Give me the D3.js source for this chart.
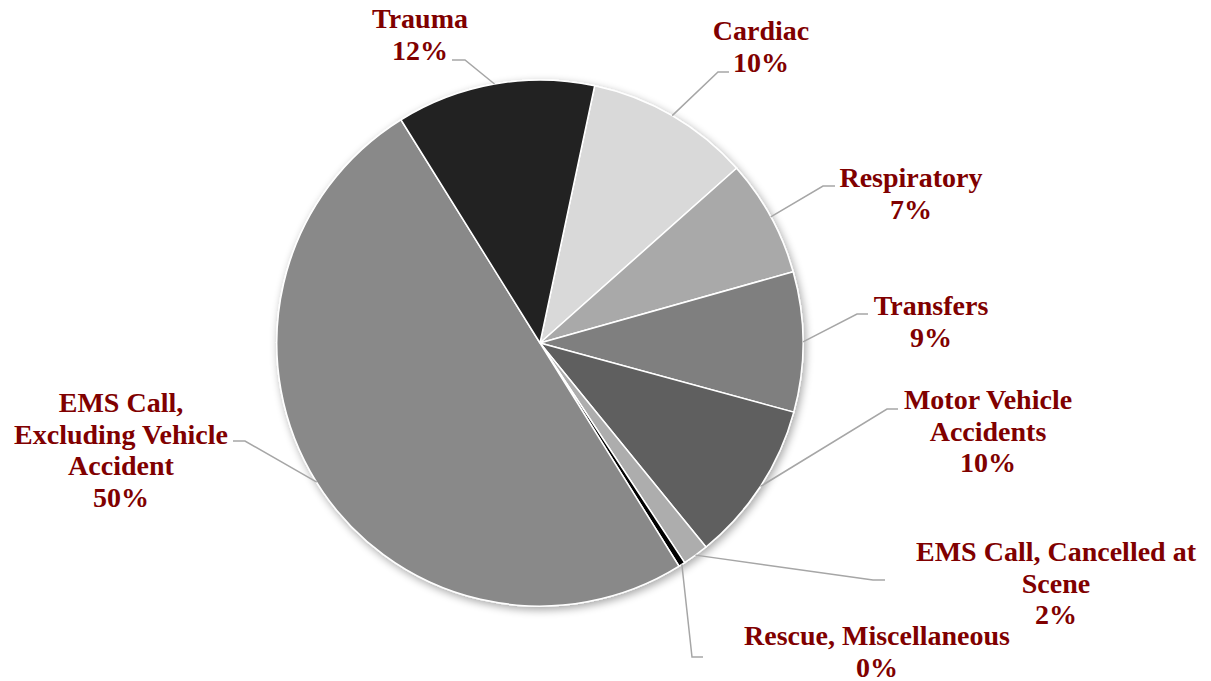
<!DOCTYPE html>
<html>
<head>
<meta charset="utf-8">
<script src="https://cdn.jsdelivr.net/npm/d3@7"></script>
<style>
  html, body { margin: 0; padding: 0; background: #ffffff; }
  svg { display: block; }
</style>
</head>
<body>
<svg id="chart" width="1211" height="681"></svg>
<script>
// ---- data ----
const categories = [
  "Cardiac",
  "Respiratory",
  "Transfers",
  "Motor Vehicle Accidents",
  "EMS Call, Cancelled at Scene",
  "Rescue, Miscellaneous",
  "EMS Call, Excluding Vehicle Accident",
  "Trauma"
];
const values = [10.1, 7.2, 8.6, 9.9, 1.6, 0.4, 50.0, 12.2];

// label text split into lines (percentage appended from values)
const labelLines = [
  ["Cardiac"],
  ["Respiratory"],
  ["Transfers"],
  ["Motor Vehicle", "Accidents"],
  ["EMS Call, Cancelled at", "Scene"],
  ["Rescue, Miscellaneous"],
  ["EMS Call,", "Excluding Vehicle", "Accident"],
  ["Trauma"]
];

// ---- styling / layout (not data) ----
const sliceColors = ["#d9d9d9", "#a9a9a9", "#7f7f7f", "#5f5f5f", "#adadad", "#000000", "#898989", "#222222"];
// label centre x, first baseline y, leader elbow and end
const labelLayout = [
  { x: 761,  y: 40,  elbow: [718, 72],  end: [729, 72] },
  { x: 911,  y: 187, elbow: [823, 186], end: [835, 186] },
  { x: 931,  y: 315, elbow: [857, 314], end: [868, 314] },
  { x: 988,  y: 409, elbow: [887, 409], end: [898, 409] },
  { x: 1056, y: 561, elbow: [873, 580], end: [885, 580] },
  { x: 877,  y: 645, elbow: [692, 657], end: [703, 657] },
  { x: 121,  y: 412, elbow: [245, 441], end: [233, 441] },
  { x: 420,  y: 28,  elbow: [465, 60],  end: [452, 60] }
];
const cx = 540, cy = 343, radius = 263;
const lineHeight = 31.5;
const labelColor = "#800000";

const svg = d3.select("#chart");

const defs = svg.append("defs");
const filt = defs.append("filter").attr("id", "shadow")
  .attr("x", "-10%").attr("y", "-10%").attr("width", "120%").attr("height", "120%");
filt.append("feGaussianBlur").attr("in", "SourceAlpha").attr("stdDeviation", 4).attr("result", "blur");
filt.append("feOffset").attr("in", "blur").attr("dx", 2).attr("dy", 3).attr("result", "off");
filt.append("feComponentTransfer").attr("in", "off").attr("result", "soft")
  .append("feFuncA").attr("type", "linear").attr("slope", 0.35);
const merge = filt.append("feMerge");
merge.append("feMergeNode").attr("in", "soft");
merge.append("feMergeNode").attr("in", "SourceGraphic");

const data = categories.map((c, i) => ({ name: c, value: values[i], idx: i }));

const pie = d3.pie()
  .sort(null)
  .value(d => d.value)
  .startAngle(12 * Math.PI / 180)
  .endAngle(12 * Math.PI / 180 + 2 * Math.PI);

const arcs = pie(data);
const arcGen = d3.arc().innerRadius(0).outerRadius(radius);
const edgeArc = d3.arc().innerRadius(radius).outerRadius(radius);

const g = svg.append("g").attr("transform", `translate(${cx},${cy})`);

g.append("g").attr("filter", "url(#shadow)")
  .selectAll("path")
  .data(arcs)
  .join("path")
  .attr("d", arcGen)
  .attr("fill", d => sliceColors[d.data.idx])
  .attr("stroke", "#ffffff")
  .attr("stroke-width", 1.5)
  .attr("stroke-linejoin", "round");

// leader lines
svg.append("g")
  .selectAll("polyline")
  .data(arcs)
  .join("polyline")
  .attr("points", d => {
    const c = edgeArc.centroid(d);
    const L = labelLayout[d.data.idx];
    return [[cx + c[0], cy + c[1]], L.elbow, L.end].map(p => p.join(",")).join(" ");
  })
  .attr("fill", "none")
  .attr("stroke", "#a6a6a6")
  .attr("stroke-width", 1.5);

// labels
const fmt = v => Math.round(v) + "%";
const labels = svg.append("g")
  .selectAll("text")
  .data(arcs)
  .join("text")
  .attr("text-anchor", "middle")
  .attr("font-family", "'Liberation Serif', 'Times New Roman', serif")
  .attr("font-weight", "bold")
  .attr("font-size", "28px")
  .attr("fill", labelColor);

labels.each(function(d) {
  const L = labelLayout[d.data.idx];
  const lines = labelLines[d.data.idx].concat([fmt(d.data.value)]);
  d3.select(this).selectAll("tspan")
    .data(lines)
    .join("tspan")
    .attr("x", L.x)
    .attr("y", (t, j) => L.y + j * lineHeight)
    .text(t => t);
});
</script>
</body>
</html>
